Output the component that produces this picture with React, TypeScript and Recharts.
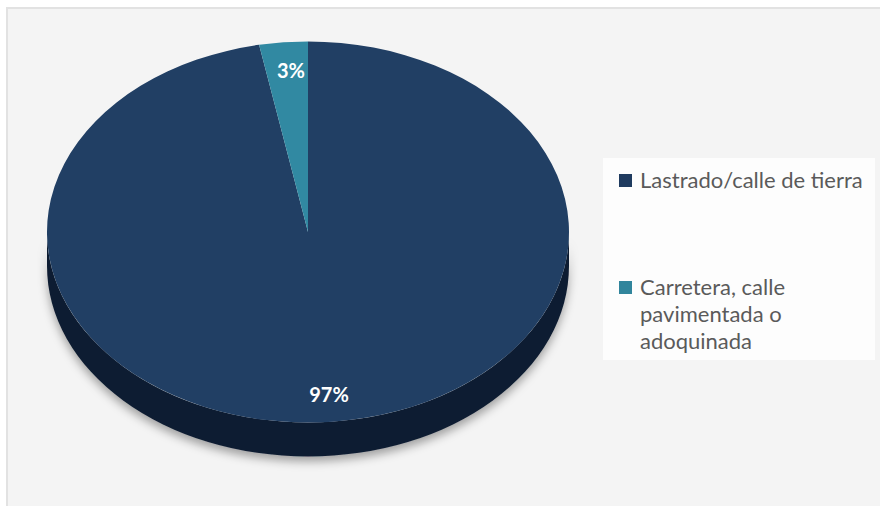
import React from "react";
import { PieChart, Pie, Cell, Legend } from "recharts";

const categories = ["Lastrado/calle de tierra", "Carretera, calle pavimentada o adoquinada"];
const values = [97, 3];
const labels = ["97%", "3%"];
const topColors = ["#213f64", "#3189a2"];
const sideColors = ["#101d31", "#1c5565"];
const legendColors = ["#1f3b5f", "#31859c"];

const data = categories.map((name, i) => ({ name, value: values[i], label: labels[i] }));

const RATIO = 190.5 / 261;
const DEPTH = 34;

function pt(cx: number, cy: number, rx: number, ry: number, a: number) {
  const r = (a * Math.PI) / 180;
  return [cx + rx * Math.cos(r), cy - ry * Math.sin(r)];
}

const EllipseSlice = (props: any) => {
  const { cx, cy, outerRadius, startAngle, endAngle, index, payload } = props;
  const rx = outerRadius;
  const ry = outerRadius * RATIO;
  const a0 = startAngle;
  const a1 = endAngle;
  const p0 = pt(cx, cy, rx, ry, a0);
  const p1 = pt(cx, cy, rx, ry, a1);
  const large = Math.abs(a1 - a0) > 180 ? 1 : 0;
  const sweep = a1 < a0 ? 1 : 0;
  const top = `M${cx},${cy} L${p0[0]},${p0[1]} A${rx},${ry} 0 ${large} ${sweep} ${p1[0]},${p1[1]} Z`;

  const lo = Math.min(a0, a1);
  const hi = Math.max(a0, a1);
  const sides: string[] = [];
  for (let k = -2; k <= 2; k++) {
    const s = -180 + 360 * k;
    const e = 0 + 360 * k;
    const l = Math.max(lo, s);
    const h = Math.min(hi, e);
    if (h > l) {
      const ph = pt(cx, cy, rx, ry, h);
      const pl = pt(cx, cy, rx, ry, l);
      sides.push(
        `M${ph[0]},${ph[1]} A${rx},${ry} 0 0 1 ${pl[0]},${pl[1]} L${pl[0]},${pl[1] + DEPTH} A${rx},${ry} 0 0 0 ${ph[0]},${ph[1] + DEPTH} Z`
      );
    }
  }
  const mid = (a0 + a1) / 2;
  const lp = pt(cx, cy, rx * 0.855, ry * 0.855, mid);
  const i = index ?? 0;
  return (
    <g>
      {sides.map((d, j) => (
        <path key={j} d={d} fill={sideColors[i]} filter="url(#pieShadow)" />
      ))}
      <path d={top} fill={topColors[i]} />
      <text
        x={lp[0] + (i === 1 ? 4 : 0)}
        y={lp[1]}
        textAnchor="middle"
        dominantBaseline="central"
        fill="#ffffff"
        fontFamily="Lato, 'Open Sans', sans-serif"
        fontWeight={700}
        fontSize={20}
      >
        {payload?.label ?? labels[i]}
      </text>
    </g>
  );
};

const LegendContent = () => {
  return (
    <div style={{ position: "relative", width: 272, height: 202 }}>
      {categories.map((name, i) => (
        <div
          key={name}
          style={{ position: "absolute", left: 16, top: 8 + i * 107, display: "flex", alignItems: "flex-start" }}
        >
          <div
            style={{
              width: 13,
              height: 13,
              background: legendColors[i],
              marginTop: 8,
              marginRight: 8,
              flex: "none",
            }}
          />
          <div
            style={{
              width: 232,
              fontFamily: "Lato, 'Open Sans', sans-serif",
              fontSize: 22,
              lineHeight: "27px",
              color: "#5a5a5a",
            }}
          >
            {name}
          </div>
        </div>
      ))}
    </div>
  );
};

export default function App() {
  return (
    <div style={{ position: "absolute", left: 0, top: 0, width: 880, height: 506, background: "#ffffff", overflow: "hidden" }}>
      <div
        style={{
          position: "absolute",
          left: 6,
          top: 7,
          width: 880,
          height: 499,
          background: "#f4f4f4",
          borderLeft: "2px solid #e2e2e2",
          borderTop: "2px solid #e2e2e2",
          boxSizing: "border-box",
        }}
      />
      <div style={{ position: "absolute", left: 0, top: 0 }}>
        <PieChart width={880} height={506} margin={{ top: 0, right: 0, bottom: 0, left: 0 }}>
          <defs>
            <filter id="pieShadow" x="-20%" y="-20%" width="140%" height="160%">
              <feDropShadow dx="0" dy="5" stdDeviation="5" floodColor="#000000" floodOpacity="0.35" />
            </filter>
          </defs>
          <Pie
            data={data}
            dataKey="value"
            nameKey="name"
            cx={308}
            cy={232}
            outerRadius={261}
            startAngle={90}
            endAngle={-270}
            stroke="none"
            labelLine={false}
            isAnimationActive={false}
            shape={EllipseSlice}
          >
            {data.map((d, i) => (
              <Cell key={d.name} fill={legendColors[i]} />
            ))}
          </Pie>
          <Legend
            layout="vertical"
            content={<LegendContent />}
            wrapperStyle={{ position: "absolute", left: 603, top: 158, width: 272, height: 202, background: "#fdfdfd" }}
          />
        </PieChart>
      </div>
    </div>
  );
}
